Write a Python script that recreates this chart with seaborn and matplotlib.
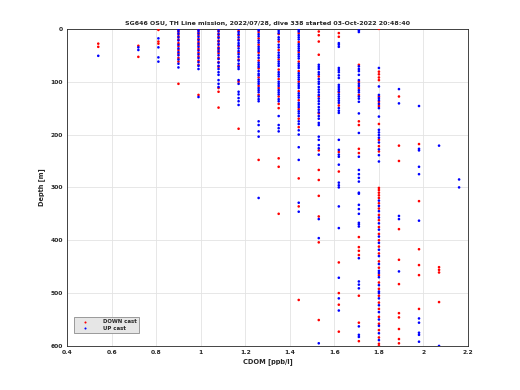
import pandas as pd
import matplotlib.pyplot as plt
import seaborn as sns

# CDOMの値（量子化された列）ごとの深度 [m]
cdom_levels = [0.54, 0.72, 0.81, 0.90, 0.99, 1.08, 1.17, 1.26, 1.35, 1.44,
               1.53, 1.62, 1.71, 1.80, 1.89, 1.98, 2.07, 2.16]

down_054 = [28, 34]
up_054 = [51]
down_072 = [32, 53]
up_072 = [35, 40]
down_081 = [2, 24, 28]
up_081 = [18, 35, 54, 62]
down_090 = [3, 8, 14, 20, 27, 33, 40, 47, 55, 62, 104]
up_090 = [1, 5, 10, 16, 22, 30, 37, 44, 50, 58, 66, 73]
down_099 = [2, 7, 12, 19, 25, 31, 38, 45, 52, 60, 68, 125]
up_099 = [0, 4, 9, 15, 21, 28, 34, 41, 48, 55, 63, 70, 76, 129]
down_108 = [3, 9, 15, 22, 28, 35, 40, 46, 55, 63, 72, 112, 119, 149]
up_108 = [0, 5, 11, 17, 24, 30, 37, 43, 50, 57, 64, 70, 76, 82, 87, 97, 104, 110]
down_117 = [4, 12, 20, 33, 45, 58, 70, 100, 189]
up_117 = [0, 6, 10, 16, 22, 27, 31, 37, 42, 48, 53, 60, 66, 72, 76, 97, 104,
          119, 124, 131, 137, 144]
down_126 = [6, 18, 30, 45, 60, 75, 92, 108, 125, 248]
up_126 = [0, 3, 10, 14, 22, 26, 34, 38, 42, 50, 55, 64, 68, 72, 80, 85, 88, 96,
          100, 104, 112, 116, 120, 128, 133, 137, 175, 182, 194, 204, 320]
down_135 = [10, 24, 40, 58, 77, 95, 112, 128, 142, 150, 245, 261, 350]
up_135 = [4, 8, 16, 20, 30, 35, 45, 50, 54, 62, 66, 70, 82, 86, 90, 100, 104,
          108, 116, 120, 124, 133, 137, 165, 182, 188, 194]
down_144 = [8, 25, 44, 62, 80, 100, 118, 135, 152, 170, 186, 283, 336, 513]
up_144 = [2, 5, 12, 16, 20, 29, 33, 37, 41, 48, 52, 56, 66, 70, 74, 84, 88, 92,
          96, 104, 108, 112, 122, 126, 130, 140, 144, 148, 156, 160, 165, 175,
          180, 192, 200, 224, 248, 329, 346]
down_153 = [5, 12, 24, 49, 90, 128, 160, 230, 267, 286, 316, 355, 404, 551]
up_153 = [68, 72, 76, 82, 86, 95, 100, 104, 110, 115, 120, 125, 132, 137, 142,
          148, 153, 158, 165, 170, 178, 182, 204, 210, 220, 226, 238, 360, 396, 595]
down_162 = [8, 15, 120, 145, 233, 270, 442, 500, 522, 573]
up_162 = [27, 30, 34, 74, 78, 82, 88, 93, 106, 110, 114, 118, 124, 128, 132,
          136, 140, 150, 155, 159, 210, 229, 238, 242, 257, 291, 296, 300, 336,
          377, 471, 510, 533]
down_171 = [68, 100, 112, 125, 175, 182, 227, 235, 394, 413, 420, 428, 505,
            556, 591]
up_171 = [3, 6, 71, 76, 80, 87, 97, 104, 108, 116, 120, 128, 132, 138, 160,
          197, 242, 267, 275, 282, 289, 310, 312, 333, 341, 350, 367, 370, 374,
          434, 478, 484, 491, 563, 579, 583]
down_180 = [0, 81, 86, 92, 97, 128, 138, 146, 180, 210, 222, 232, 301, 305,
            310, 315, 320, 330, 340, 352, 362, 375, 388, 400, 412, 425, 440,
            452, 466, 480, 492, 505, 518, 530, 545, 558, 570, 584, 596, 600]
up_180 = [74, 109, 125, 131, 135, 142, 150, 166, 191, 196, 201, 206, 215, 228,
          239, 251, 325, 335, 345, 357, 368, 380, 393, 405, 418, 430, 445, 458,
          462, 470, 485, 497, 500, 510, 523, 536, 550, 562, 576, 589]
down_189 = [128, 221, 250, 379, 437, 483, 538, 546, 568, 587, 595]
up_189 = [114, 141, 354, 360, 459]
down_198 = [218, 326, 417, 447, 466, 530]
up_198 = [146, 227, 230, 261, 275, 363, 548, 556, 575, 579, 592]
down_207 = [451, 456, 461, 517]
up_207 = [221, 600]
down_216 = []
up_216 = [285, 300]

down_lists = [down_054, down_072, down_081, down_090, down_099, down_108,
              down_117, down_126, down_135, down_144, down_153, down_162,
              down_171, down_180, down_189, down_198, down_207, down_216]
up_lists = [up_054, up_072, up_081, up_090, up_099, up_108, up_117, up_126,
            up_135, up_144, up_153, up_162, up_171, up_180, up_189, up_198,
            up_207, up_216]

title_text = 'SG646 OSU, TH Line mission, 2022/07/28, dive 338 started 03-Oct-2022 20:48:40'

rows = []
for cast, lists in [('DOWN cast', down_lists), ('UP cast', up_lists)]:
    for c, depths in zip(cdom_levels, lists):
        for d in depths:
            rows.append({'cdom': c, 'depth': d, 'cast': cast})
df = pd.DataFrame(rows)

sns.set_style('white')
plt.rcParams['font.family'] = ['DejaVu Sans']

fig = plt.figure(figsize=(5.2, 3.9), dpi=100)
ax = fig.add_axes([0.129, 0.113, 0.771, 0.813])

sns.scatterplot(data=df, x='cdom', y='depth', hue='cast',
                palette={'DOWN cast': '#ff0000', 'UP cast': '#0000ff'},
                s=3.5, linewidth=0, marker='o', ax=ax, zorder=3)

ax.set_xlim(0.4, 2.2)
ax.set_ylim(600, 0)
ax.set_xticks([0.4, 0.6, 0.8, 1.0, 1.2, 1.4, 1.6, 1.8, 2.0, 2.2])
ax.set_xticklabels(['0.4', '0.6', '0.8', '1', '1.2', '1.4', '1.6', '1.8', '2', '2.2'])
ax.set_yticks([0, 100, 200, 300, 400, 500, 600])
ax.grid(True, color='#e3e3e3', linewidth=0.6)
ax.set_axisbelow(True)
ax.tick_params(direction='in', length=3, width=0.6, labelsize=4.3,
               colors='#262626', pad=3)
for lab in ax.get_xticklabels() + ax.get_yticklabels():
    lab.set_fontweight('bold')
for sp in ax.spines.values():
    sp.set_color('#262626')
    sp.set_linewidth(0.6)

ax.set_xlabel('CDOM [ppb/l]', fontsize=4.8, fontweight='bold', labelpad=2)
ax.set_ylabel('Depth [m]', fontsize=4.8, fontweight='bold', labelpad=4)
ax.set_title(title_text, fontsize=4.5, fontweight='bold', pad=3)

handles, labels = ax.get_legend_handles_labels()
leg = ax.legend(handles, labels, loc='lower left', bbox_to_anchor=(0.018, 0.04),
                fontsize=3.9, frameon=True, fancybox=False, markerscale=0.8,
                handletextpad=1.6, borderpad=0.45, labelspacing=0.25,
                handlelength=3.2, borderaxespad=0)
leg.get_frame().set_facecolor('#e6e6e6')
leg.get_frame().set_edgecolor('#8c8c8c')
leg.get_frame().set_linewidth(0.6)
leg.get_frame().set_alpha(1)
for t in leg.get_texts():
    t.set_fontweight('bold')

fig.savefig('out.png', dpi=100)
